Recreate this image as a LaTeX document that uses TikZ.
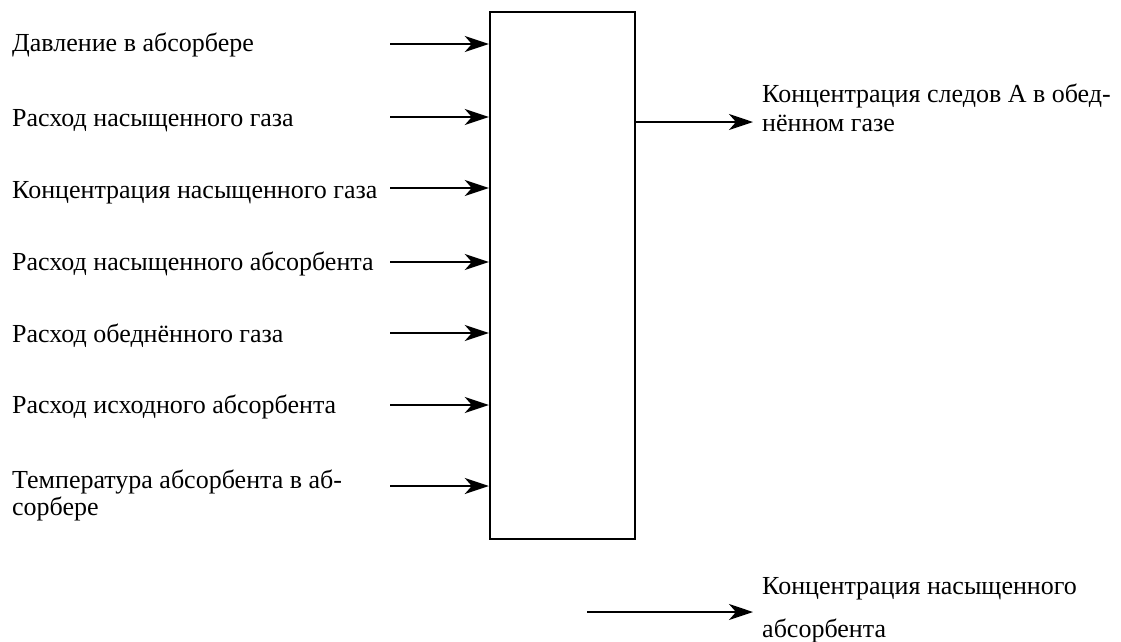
\documentclass[tikz,border=0pt]{standalone}
\usepackage{fontspec}
\setmainfont{Liberation Serif}
\usetikzlibrary{arrows.meta}
\tikzset{
  blk/.style={rectangle, draw=black, line width=2.4pt, inner sep=0pt,
              minimum width=145pt, minimum height=527pt},
  lbl/.style={anchor=base west, inner sep=0pt, align=left,
              font=\rmfamily\fontsize{26}{29}\selectfont},
  ar/.style={-{Stealth[length=24pt,width=16pt,inset=7pt]}, line width=2.4pt},
}
\begin{document}
\begin{tikzpicture}[x=1pt,y=1pt]
  \useasboundingbox (0,0) rectangle (1121,-641);

  % absorber block
  \node[blk] (absorber) at (562.5,-275.5) {};

  % inputs
  \foreach \i/\ya/\yb/\txt in {1/44/51/{Давление в абсорбере},
      2/117/126/{Расход насыщенного газа},
      3/188/198/{Концентрация насыщенного газа},
      4/262/270/{Расход насыщенного абсорбента},
      5/333/342/{Расход обеднённого газа},
      6/405/413/{Расход исходного абсорбента},
      7/486/515/{Температура абсорбента в аб-\\[-2pt]сорбере}} {
    \node[lbl] (in\i) at (12,-\yb) {\txt};
    \coordinate (src\i) at (390,-\ya);
    \draw[ar] (src\i) -- (src\i -| absorber.west);
  }

  % output
  \coordinate (outend) at (753,-122);
  \draw[ar] (absorber.east |- outend) -- (outend);
  \node[lbl] (outlbl) at (762,-131) {Концентрация следов А в обед-\\нённом газе};

  % bottom arrow
  \coordinate (botstart) at (587,-612);
  \coordinate (botend) at (753,-612);
  \draw[ar] (botstart) -- (botend);
  \node[lbl] (botlbl) at (762,-637) {Концентрация насыщенного\\[14pt]абсорбента};
\end{tikzpicture}
\end{document}
